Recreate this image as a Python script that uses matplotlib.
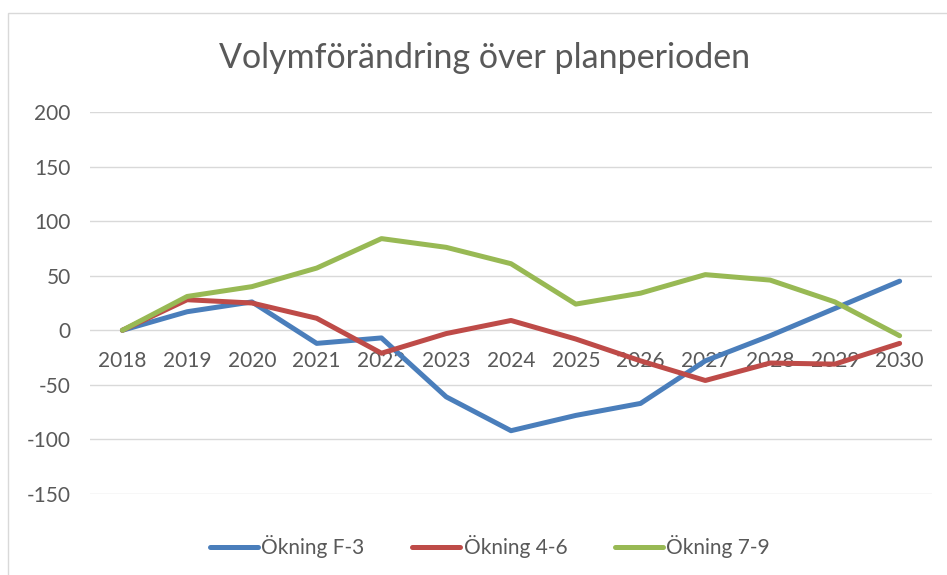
import matplotlib
matplotlib.use("Agg")
import matplotlib.pyplot as plt
from matplotlib.patches import Rectangle

years = ["2018", "2019", "2020", "2021", "2022", "2023", "2024",
         "2025", "2026", "2027", "2028", "2029", "2030"]
okning_f3 = [0, 17, 26, -12, -7, -61, -92, -78, -67, -28, -5, 20, 45]
okning_46 = [0, 28, 25, 11, -21, -3, 9, -8, -28, -46, -30, -31, -12]
okning_79 = [0, 31, 40, 57, 84, 76, 61, 24, 34, 51, 46, 26, -5]
series_labels = ["Ökning F-3", "Ökning 4-6", "Ökning 7-9"]
colors = ["#4A7EBB", "#BE4B48", "#98B954"]
yticks = [-150, -100, -50, 0, 50, 100, 150, 200]

W, H = 947, 575
fig = plt.figure(figsize=(W / 100, H / 100), dpi=100)
plt.rcParams['font.family'] = ['Lato', 'DejaVu Sans']
txt = "#595959"

# chart border
fig.patches.append(Rectangle((8 / W, 0 - 0.01), 1.0, 1 - 13 / H + 0.01,
                             transform=fig.transFigure, fill=False,
                             edgecolor="#D9D9D9", linewidth=1.0))

ax = fig.add_axes([90 / W, 1 - 494 / H, (932 - 90) / W, (494 - 112) / H])
x = list(range(len(years)))
for vals, lab, c in zip([okning_f3, okning_46, okning_79], series_labels, colors):
    ax.plot(x, vals, color=c, linewidth=3.6, label=lab, solid_capstyle="round",
            solid_joinstyle="round")

ax.set_xlim(-0.5, len(years) - 0.5)
ax.set_ylim(-150, 200)
ax.set_yticks(yticks)
ax.set_yticklabels([str(v) for v in yticks], fontsize=15, color=txt)
ax.yaxis.grid(True, color="#D9D9D9", linewidth=1.0)
ax.set_axisbelow(True)
for s in ["top", "right", "left"]:
    ax.spines[s].set_visible(False)
ax.spines["bottom"].set_position(("data", 0))
ax.spines["bottom"].set_visible(False)
ax.set_xticks(x)
ax.set_xticklabels(years, fontsize=15, color=txt)
ax.tick_params(axis="x", length=0, pad=15)
ax.tick_params(axis="y", length=0, pad=14)

fig.text(485 / W, 1 - 58 / H, "Volymförändring över planperioden",
         ha="center", va="center", fontsize=24.5, color=txt)

fig.legend(loc="center", bbox_to_anchor=(490 / W, 1 - 547 / H), ncol=3,
           frameon=False, fontsize=15, labelcolor=txt, handlelength=2.3,
           handletextpad=0.15, columnspacing=2.3)

fig.savefig("out.png", dpi=100)
